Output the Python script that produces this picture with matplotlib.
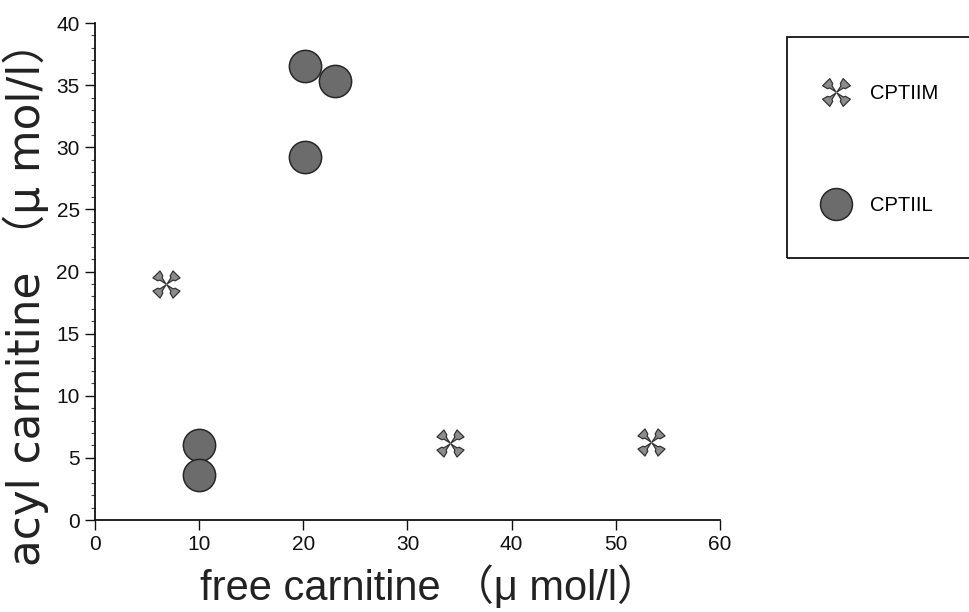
import numpy as np
import matplotlib
matplotlib.use("Agg")
import matplotlib.pyplot as plt
from matplotlib.path import Path
from matplotlib.patches import Rectangle
from matplotlib.lines import Line2D
from matplotlib.ticker import MultipleLocator

plt.rcParams['font.family'] = ['Liberation Sans', 'Noto Sans CJK JP', 'DejaVu Sans']

# Data
m_free = [6.8, 34.1, 53.4]
m_acyl = [19.0, 6.2, 6.3]
l_free = [20.2, 23.0, 20.2, 10.0, 10.0]
l_acyl = [36.5, 35.3, 29.2, 6.0, 3.6]
series_labels = ["CPTIIM", "CPTIIL"]
x_ticks = [0, 10, 20, 30, 40, 50, 60]
y_ticks = [0, 5, 10, 15, 20, 25, 30, 35, 40]

# Custom four-armed cross marker (arms flaring outward)
def make_cross():
    arm = np.array([(0.06, 0.0), (0.55, -0.11), (0.62, -0.25), (1.0, -0.35),
                    (1.0, 0.35), (0.62, 0.25), (0.55, 0.11), (0.06, 0.0)])
    paths = []
    for ang in [45, 135, 225, 315]:
        a = np.deg2rad(ang)
        R = np.array([[np.cos(a), -np.sin(a)], [np.sin(a), np.cos(a)]])
        v = arm @ R.T
        codes = [Path.MOVETO] + [Path.LINETO] * (len(v) - 2) + [Path.CLOSEPOLY]
        paths.append(Path(v, codes))
    return Path.make_compound_path(*paths)

cross = make_cross()

fig = plt.figure(figsize=(9.7, 6.12), dpi=100)
ax = fig.add_axes([0.0979, 0.1503, 0.6444, 0.8121])

circ_face = '#6c6c6c'
circ_edge = '#262626'
cross_face = '#8c8c8c'
cross_edge = '#333333'

ax.scatter(l_free, l_acyl, s=540, marker='o', facecolor=circ_face,
           edgecolor=circ_edge, linewidth=1.1, zorder=3)
ax.scatter(m_free, m_acyl, s=380, marker=cross, facecolor=cross_face,
           edgecolor=cross_edge, linewidth=0.9, zorder=3)

ax.set_xlim(0, 60)
ax.set_ylim(0, 40)
ax.set_xticks(x_ticks)
ax.set_yticks(y_ticks)
ax.yaxis.set_minor_locator(MultipleLocator(1))
ax.spines['top'].set_visible(False)
ax.spines['right'].set_visible(False)
for s in ['left', 'bottom']:
    ax.spines[s].set_linewidth(1.3)
    ax.spines[s].set_color('#111111')
ax.tick_params(axis='both', which='major', direction='out', length=7, width=1.0,
               labelsize=15, colors='#111111')
ax.tick_params(axis='y', which='major', pad=4)
ax.tick_params(axis='x', which='major', pad=4)
ax.tick_params(axis='y', which='minor', direction='out', length=3, width=0.8, colors='#444444')
ax.tick_params(axis='x', which='minor', bottom=False)

ax.set_xlabel("free carnitine （μ mol/l）", fontsize=30, color='#222222', labelpad=8)
ax.set_ylabel("acyl carnitine （μ mol/l）", fontsize=31.5, color='#222222', labelpad=5,
              family=['DejaVu Sans', 'Noto Sans CJK JP'])
ax.xaxis.label.set_x(0.535)
ax.yaxis.label.set_y(0.456)

# Legend box
fig.patches.append(Rectangle((787 / 970, 1 - 258 / 612), (975 - 787) / 970, (258 - 37) / 612,
                             transform=fig.transFigure, fill=False, edgecolor='#111111',
                             linewidth=1.3))
handles = [
    Line2D([], [], linestyle='none', marker=cross, markersize=20,
           markerfacecolor=cross_face, markeredgecolor=cross_edge, markeredgewidth=0.9),
    Line2D([], [], linestyle='none', marker='o', markersize=23,
           markerfacecolor=circ_face, markeredgecolor=circ_edge, markeredgewidth=1.1),
]
fig.legend(handles, series_labels, loc='upper left', bbox_to_anchor=(812 / 970, 1 - 74 / 612),
           frameon=False, fontsize=14.5, labelspacing=4.6, handletextpad=1.0,
           borderpad=0, handlelength=1.4)

fig.savefig("out.png", dpi=100)
